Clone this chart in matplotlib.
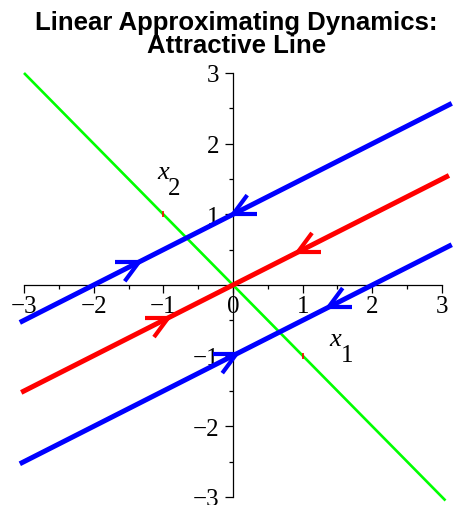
import matplotlib.pyplot as plt
import numpy as np

# phase lines: slope 1/2 through intercepts, plus the repelling diagonal y = -x
blue_xs = [-3.06, 3.14]
red_xs = [-3.04, 3.1]
green_xs = [-3.0, 3.05]
slope = 0.5
blue_intercepts = [1, -1]
red_intercept = 0
green_slope = -1

# arrow tips: (x position on line, intercept, direction along x)
arrow_x = [-1.35, 0.0, 1.37, 0.05, -0.93, 0.93]
arrow_b = [1, 1, -1, -1, 0, 0]
arrow_dir = [1, -1, -1, 1, 1, -1]
arrow_col = ['blue', 'blue', 'blue', 'blue', 'red', 'red']

ticks = [-3, -2, -1, 0, 1, 2, 3]
tick_labels = ['\u22123', '\u22122', '\u22121', '0', '1', '2', '3']

fig = plt.figure(figsize=(4.56, 5.06), dpi=100)
ax = fig.add_axes([24 / 456, 8 / 506, 418 / 456, 424 / 506])
ax.set_xlim(-3, 3)
ax.set_ylim(-3, 3)

gx = np.array(green_xs)
ax.plot(gx, green_slope * gx, color='#00ff00', lw=1.9, zorder=3,
        solid_capstyle='butt', clip_on=False)
rx = np.array(red_xs)
ax.plot(rx, slope * rx + red_intercept, color='red', lw=3.6, zorder=4,
        solid_capstyle='butt', clip_on=False)
bx = np.array(blue_xs)
for b in blue_intercepts:
    ax.plot(bx, slope * bx + b, color='blue', lw=3.6, zorder=5,
            solid_capstyle='butt', clip_on=False)

# open arrowheads, arms swept back at the line angle
ang = np.arctan(slope)
arm = 0.34
for x0, b, d, c in zip(arrow_x, arrow_b, arrow_dir, arrow_col):
    y0 = slope * x0 + b
    back = np.arctan2(-d * slope, -d)
    for a in (back - ang, back + ang):
        ax.plot([x0, x0 + arm * np.cos(a)], [y0, y0 + arm * np.sin(a)],
                color=c, lw=3.0, zorder=6, solid_capstyle='butt')

# tiny red stubs left on the diagonal
ax.plot([-1, 1], [1.0, -1.0], ls='none', marker='|', ms=4, mew=1.2, color='red', zorder=4)

# axes through the origin
for s in ['top', 'right']:
    ax.spines[s].set_visible(False)
ax.spines['left'].set_position('zero')
ax.spines['bottom'].set_position('zero')
ax.spines['left'].set_linewidth(0.9)
ax.spines['bottom'].set_linewidth(0.9)
ax.set_xticks(ticks)
ax.set_xticks(np.arange(-2.5, 3, 1.0), minor=True)
ax.set_yticks([t for t in ticks if t != 0])
ax.set_yticks(np.arange(-2.5, 3, 1.0), minor=True)
ax.set_xticklabels(tick_labels)
ax.set_yticklabels([l for l, t in zip(tick_labels, ticks) if t != 0])
ax.tick_params(which='major', length=6, width=0.9, direction='out')
ax.tick_params(which='minor', length=3, width=0.9, direction='out')
ax.tick_params(axis='x', pad=1)
ax.tick_params(axis='y', pad=4)
for lab in ax.get_xticklabels() + ax.get_yticklabels():
    lab.set_fontfamily('Liberation Serif')
    lab.set_fontsize(18)

# axis names
ax.text(-1.0, 1.6, 'x', fontfamily='Liberation Serif', style='italic', fontsize=19,
        ha='center', va='center')
ax.text(-0.84, 1.37, '2', fontfamily='Liberation Serif', fontsize=18, ha='center', va='center')
ax.text(1.46, -0.76, 'x', fontfamily='Liberation Serif', style='italic', fontsize=19,
        ha='center', va='center')
ax.text(1.64, -0.99, '1', fontfamily='Liberation Serif', fontsize=18, ha='center', va='center')

fig.text(0.518, 0.979, 'Linear Approximating Dynamics:\nAttractive Line',
         ha='center', va='top', fontfamily='Liberation Sans', fontweight='bold',
         fontsize=18.5, linespacing=0.95)

fig.savefig('out.png', dpi=100)
